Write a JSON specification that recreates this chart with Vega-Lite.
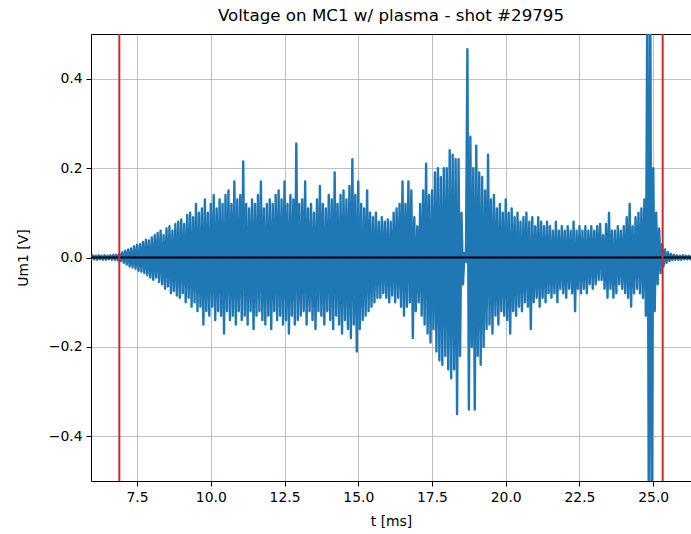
{
  "$schema": "https://vega.github.io/schema/vega-lite/v6.json",
  "width": 600,
  "height": 447,
  "autosize": {"type": "none"},
  "padding": {"left": 91, "top": 34, "right": 0, "bottom": 53},
  "background": "white",
  "title": {
    "text": "Voltage on MC1 w/ plasma - shot #29795",
    "font": "DejaVu Sans",
    "fontSize": 16.7,
    "fontWeight": "normal",
    "color": "black",
    "anchor": "middle",
    "offset": 8
  },
  "config": {
    "view": {"stroke": null},
    "axis": {
      "labelFont": "DejaVu Sans",
      "labelFontSize": 13.9,
      "labelColor": "black",
      "titleFont": "DejaVu Sans",
      "titleFontSize": 13.9,
      "titleFontWeight": "normal",
      "titleColor": "black",
      "domainColor": "black",
      "domainWidth": 1,
      "tickColor": "black",
      "tickWidth": 1,
      "tickSize": 5,
      "labelPadding": 4,
      "gridColor": "#b0b0b0",
      "gridWidth": 0.8
    }
  },
  "resolve": {"axis": {"x": "independent", "y": "independent"}},
  "layer": [
    {
      "data": {
        "values": [
          {"t":5.9,"u":0.004},{"t":5.95,"u":-0.004},{"t":6.0,"u":0.005},{"t":6.05,"u":-0.004},
          {"t":6.1,"u":0.004},{"t":6.15,"u":-0.005},{"t":6.2,"u":0.005},{"t":6.25,"u":-0.004},
          {"t":6.3,"u":0.004},{"t":6.35,"u":-0.005},{"t":6.4,"u":0.005},{"t":6.45,"u":-0.005},
          {"t":6.5,"u":0.004},{"t":6.55,"u":-0.004},{"t":6.6,"u":0.005},{"t":6.65,"u":-0.005},
          {"t":6.7,"u":0.006},{"t":6.75,"u":-0.005},{"t":6.8,"u":0.006},{"t":6.85,"u":-0.006},
          {"t":6.9,"u":0.008},{"t":6.95,"u":-0.008},{"t":7.0,"u":0.012},{"t":7.05,"u":-0.012},
          {"t":7.1,"u":0.015},{"t":7.15,"u":-0.016},{"t":7.2,"u":0.018},{"t":7.25,"u":-0.02},
          {"t":7.3,"u":0.02},{"t":7.35,"u":-0.022},{"t":7.4,"u":0.025},{"t":7.45,"u":-0.025},
          {"t":7.5,"u":0.028},{"t":7.55,"u":-0.03},{"t":7.6,"u":0.03},{"t":7.65,"u":-0.032},
          {"t":7.7,"u":0.035},{"t":7.75,"u":-0.035},{"t":7.8,"u":0.04},{"t":7.85,"u":-0.04},
          {"t":7.9,"u":0.038},{"t":7.95,"u":-0.045},{"t":8.0,"u":0.045},{"t":8.05,"u":-0.05},
          {"t":8.1,"u":0.05},{"t":8.15,"u":-0.045},{"t":8.2,"u":0.055},{"t":8.25,"u":-0.055},
          {"t":8.3,"u":0.06},{"t":8.35,"u":-0.06},{"t":8.4,"u":0.05},{"t":8.45,"u":-0.07},
          {"t":8.5,"u":0.065},{"t":8.55,"u":-0.065},{"t":8.6,"u":0.07},{"t":8.65,"u":-0.08},
          {"t":8.7,"u":0.06},{"t":8.75,"u":-0.075},{"t":8.8,"u":0.075},{"t":8.85,"u":-0.085},
          {"t":8.9,"u":0.08},{"t":8.95,"u":-0.09},{"t":9.0,"u":0.085},{"t":9.05,"u":-0.08},
          {"t":9.1,"u":0.075},{"t":9.15,"u":-0.1},{"t":9.2,"u":0.095},{"t":9.25,"u":-0.09},
          {"t":9.3,"u":0.1},{"t":9.35,"u":-0.11},{"t":9.4,"u":0.09},{"t":9.45,"u":-0.1},
          {"t":9.5,"u":0.12},{"t":9.55,"u":-0.12},{"t":9.6,"u":0.1},{"t":9.65,"u":-0.11},
          {"t":9.7,"u":0.11},{"t":9.75,"u":-0.15},{"t":9.8,"u":0.13},{"t":9.85,"u":-0.12},
          {"t":9.9,"u":0.1},{"t":9.95,"u":-0.13},{"t":10.0,"u":0.12},{"t":10.05,"u":-0.11},
          {"t":10.1,"u":0.14},{"t":10.15,"u":-0.14},{"t":10.2,"u":0.11},{"t":10.25,"u":-0.12},
          {"t":10.3,"u":0.13},{"t":10.35,"u":-0.13},{"t":10.4,"u":0.12},{"t":10.45,"u":-0.17},
          {"t":10.5,"u":0.14},{"t":10.55,"u":-0.12},{"t":10.6,"u":0.15},{"t":10.65,"u":-0.14},
          {"t":10.7,"u":0.12},{"t":10.75,"u":-0.13},{"t":10.8,"u":0.17},{"t":10.85,"u":-0.15},
          {"t":10.9,"u":0.13},{"t":10.95,"u":-0.12},{"t":11.0,"u":0.14},{"t":11.05,"u":-0.14},
          {"t":11.1,"u":0.215},{"t":11.15,"u":-0.13},{"t":11.2,"u":0.12},{"t":11.25,"u":-0.15},
          {"t":11.3,"u":0.11},{"t":11.35,"u":-0.12},{"t":11.4,"u":0.13},{"t":11.45,"u":-0.16},
          {"t":11.5,"u":0.12},{"t":11.55,"u":-0.13},{"t":11.6,"u":0.14},{"t":11.65,"u":-0.12},
          {"t":11.7,"u":0.17},{"t":11.75,"u":-0.14},{"t":11.8,"u":0.11},{"t":11.85,"u":-0.15},
          {"t":11.9,"u":0.12},{"t":11.95,"u":-0.13},{"t":12.0,"u":0.13},{"t":12.05,"u":-0.16},
          {"t":12.1,"u":0.12},{"t":12.15,"u":-0.12},{"t":12.2,"u":0.14},{"t":12.25,"u":-0.14},
          {"t":12.3,"u":0.15},{"t":12.35,"u":-0.13},{"t":12.4,"u":0.13},{"t":12.45,"u":-0.15},
          {"t":12.5,"u":0.17},{"t":12.55,"u":-0.14},{"t":12.6,"u":0.12},{"t":12.65,"u":-0.17},
          {"t":12.7,"u":0.14},{"t":12.75,"u":-0.13},{"t":12.8,"u":0.13},{"t":12.85,"u":-0.15},
          {"t":12.9,"u":0.255},{"t":12.95,"u":-0.14},{"t":13.0,"u":0.12},{"t":13.05,"u":-0.13},
          {"t":13.1,"u":0.13},{"t":13.15,"u":-0.12},{"t":13.2,"u":0.17},{"t":13.25,"u":-0.15},
          {"t":13.3,"u":0.11},{"t":13.35,"u":-0.12},{"t":13.4,"u":0.12},{"t":13.45,"u":-0.14},
          {"t":13.5,"u":0.1},{"t":13.55,"u":-0.16},{"t":13.6,"u":0.13},{"t":13.65,"u":-0.12},
          {"t":13.7,"u":0.16},{"t":13.75,"u":-0.13},{"t":13.8,"u":0.12},{"t":13.85,"u":-0.15},
          {"t":13.9,"u":0.11},{"t":13.95,"u":-0.12},{"t":14.0,"u":0.14},{"t":14.05,"u":-0.14},
          {"t":14.1,"u":0.13},{"t":14.15,"u":-0.16},{"t":14.2,"u":0.19},{"t":14.25,"u":-0.13},
          {"t":14.3,"u":0.12},{"t":14.35,"u":-0.15},{"t":14.4,"u":0.14},{"t":14.45,"u":-0.17},
          {"t":14.5,"u":0.15},{"t":14.55,"u":-0.14},{"t":14.6,"u":0.13},{"t":14.65,"u":-0.16},
          {"t":14.7,"u":0.16},{"t":14.75,"u":-0.18},{"t":14.8,"u":0.22},{"t":14.85,"u":-0.15},
          {"t":14.9,"u":0.14},{"t":14.95,"u":-0.21},{"t":15.0,"u":0.17},{"t":15.05,"u":-0.16},
          {"t":15.1,"u":0.12},{"t":15.15,"u":-0.14},{"t":15.2,"u":0.11},{"t":15.25,"u":-0.13},
          {"t":15.3,"u":0.15},{"t":15.35,"u":-0.12},{"t":15.4,"u":0.1},{"t":15.45,"u":-0.11},
          {"t":15.5,"u":0.09},{"t":15.55,"u":-0.1},{"t":15.6,"u":0.1},{"t":15.65,"u":-0.09},
          {"t":15.7,"u":0.08},{"t":15.75,"u":-0.09},{"t":15.8,"u":0.09},{"t":15.85,"u":-0.08},
          {"t":15.9,"u":0.08},{"t":15.95,"u":-0.09},{"t":16.0,"u":0.085},{"t":16.05,"u":-0.1},
          {"t":16.1,"u":0.08},{"t":16.15,"u":-0.085},{"t":16.2,"u":0.1},{"t":16.25,"u":-0.1},
          {"t":16.3,"u":0.11},{"t":16.35,"u":-0.09},{"t":16.4,"u":0.12},{"t":16.45,"u":-0.11},
          {"t":16.5,"u":0.17},{"t":16.55,"u":-0.13},{"t":16.6,"u":0.12},{"t":16.65,"u":-0.11},
          {"t":16.7,"u":0.17},{"t":16.75,"u":-0.1},{"t":16.8,"u":0.15},{"t":16.85,"u":-0.18},
          {"t":16.9,"u":0.09},{"t":16.95,"u":-0.12},{"t":17.0,"u":0.07},{"t":17.05,"u":-0.1},
          {"t":17.1,"u":0.12},{"t":17.15,"u":-0.13},{"t":17.2,"u":0.15},{"t":17.25,"u":-0.15},
          {"t":17.3,"u":0.21},{"t":17.35,"u":-0.17},{"t":17.4,"u":0.14},{"t":17.45,"u":-0.19},
          {"t":17.5,"u":0.15},{"t":17.55,"u":-0.16},{"t":17.6,"u":0.19},{"t":17.65,"u":-0.21},
          {"t":17.7,"u":0.2},{"t":17.75,"u":-0.23},{"t":17.8,"u":0.18},{"t":17.85,"u":-0.24},
          {"t":17.9,"u":0.2},{"t":17.95,"u":-0.22},{"t":18.0,"u":0.2},{"t":18.05,"u":-0.25},
          {"t":18.1,"u":0.24},{"t":18.15,"u":-0.27},{"t":18.2,"u":0.23},{"t":18.25,"u":-0.25},
          {"t":18.3,"u":0.22},{"t":18.35,"u":-0.35},{"t":18.4,"u":0.22},{"t":18.45,"u":-0.22},
          {"t":18.5,"u":0.1},{"t":18.55,"u":-0.06},{"t":18.6,"u":0.01},{"t":18.65,"u":-0.01},
          {"t":18.7,"u":0.466},{"t":18.75,"u":-0.34},{"t":18.8,"u":0.27},{"t":18.85,"u":-0.2},
          {"t":18.9,"u":0.2},{"t":18.95,"u":-0.34},{"t":19.0,"u":0.25},{"t":19.05,"u":-0.22},
          {"t":19.1,"u":0.19},{"t":19.15,"u":-0.24},{"t":19.2,"u":0.18},{"t":19.25,"u":-0.2},
          {"t":19.3,"u":0.15},{"t":19.35,"u":-0.16},{"t":19.4,"u":0.23},{"t":19.45,"u":-0.15},
          {"t":19.5,"u":0.13},{"t":19.55,"u":-0.17},{"t":19.6,"u":0.14},{"t":19.65,"u":-0.13},
          {"t":19.7,"u":0.11},{"t":19.75,"u":-0.15},{"t":19.8,"u":0.12},{"t":19.85,"u":-0.12},
          {"t":19.9,"u":0.1},{"t":19.95,"u":-0.13},{"t":20.0,"u":0.13},{"t":20.05,"u":-0.14},
          {"t":20.1,"u":0.1},{"t":20.15,"u":-0.17},{"t":20.2,"u":0.11},{"t":20.25,"u":-0.12},
          {"t":20.3,"u":0.09},{"t":20.35,"u":-0.13},{"t":20.4,"u":0.1},{"t":20.45,"u":-0.11},
          {"t":20.5,"u":0.08},{"t":20.55,"u":-0.12},{"t":20.6,"u":0.09},{"t":20.65,"u":-0.1},
          {"t":20.7,"u":0.1},{"t":20.75,"u":-0.11},{"t":20.8,"u":0.08},{"t":20.85,"u":-0.16},
          {"t":20.9,"u":0.09},{"t":20.95,"u":-0.1},{"t":21.0,"u":0.07},{"t":21.05,"u":-0.09},
          {"t":21.1,"u":0.09},{"t":21.15,"u":-0.11},{"t":21.2,"u":0.08},{"t":21.25,"u":-0.09},
          {"t":21.3,"u":0.07},{"t":21.35,"u":-0.1},{"t":21.4,"u":0.08},{"t":21.45,"u":-0.08},
          {"t":21.5,"u":0.07},{"t":21.55,"u":-0.09},{"t":21.6,"u":0.06},{"t":21.65,"u":-0.08},
          {"t":21.7,"u":0.08},{"t":21.75,"u":-0.1},{"t":21.8,"u":0.06},{"t":21.85,"u":-0.07},
          {"t":21.9,"u":0.07},{"t":21.95,"u":-0.08},{"t":22.0,"u":0.06},{"t":22.05,"u":-0.09},
          {"t":22.1,"u":0.07},{"t":22.15,"u":-0.07},{"t":22.2,"u":0.06},{"t":22.25,"u":-0.08},
          {"t":22.3,"u":0.08},{"t":22.35,"u":-0.12},{"t":22.4,"u":0.06},{"t":22.45,"u":-0.07},
          {"t":22.5,"u":0.07},{"t":22.55,"u":-0.08},{"t":22.6,"u":0.06},{"t":22.65,"u":-0.07},
          {"t":22.7,"u":0.07},{"t":22.75,"u":-0.08},{"t":22.8,"u":0.06},{"t":22.85,"u":-0.06},
          {"t":22.9,"u":0.07},{"t":22.95,"u":-0.07},{"t":23.0,"u":0.06},{"t":23.05,"u":-0.06},
          {"t":23.1,"u":0.07},{"t":23.15,"u":-0.05},{"t":23.2,"u":0.075},{"t":23.25,"u":-0.05},
          {"t":23.3,"u":0.05},{"t":23.35,"u":-0.07},{"t":23.4,"u":0.075},{"t":23.45,"u":-0.09},
          {"t":23.5,"u":0.1},{"t":23.55,"u":-0.07},{"t":23.6,"u":0.06},{"t":23.65,"u":-0.09},
          {"t":23.7,"u":0.06},{"t":23.75,"u":-0.08},{"t":23.8,"u":0.07},{"t":23.85,"u":-0.06},
          {"t":23.9,"u":0.06},{"t":23.95,"u":-0.07},{"t":24.0,"u":0.07},{"t":24.05,"u":-0.08},
          {"t":24.1,"u":0.09},{"t":24.15,"u":-0.09},{"t":24.2,"u":0.12},{"t":24.25,"u":-0.11},
          {"t":24.3,"u":0.07},{"t":24.35,"u":-0.08},{"t":24.4,"u":0.09},{"t":24.45,"u":-0.07},
          {"t":24.5,"u":0.1},{"t":24.55,"u":-0.08},{"t":24.6,"u":0.11},{"t":24.65,"u":-0.09},
          {"t":24.7,"u":0.13},{"t":24.75,"u":-0.13},{"t":24.8,"u":0.6},{"t":24.85,"u":-0.6},
          {"t":24.9,"u":0.6},{"t":24.95,"u":-0.6},{"t":25.0,"u":0.2},{"t":25.05,"u":-0.12},
          {"t":25.1,"u":0.1},{"t":25.15,"u":-0.06},{"t":25.2,"u":0.065},{"t":25.25,"u":-0.035},
          {"t":25.3,"u":0.03},{"t":25.35,"u":-0.02},{"t":25.4,"u":0.018},{"t":25.45,"u":-0.012},
          {"t":25.5,"u":0.012},{"t":25.55,"u":-0.008},{"t":25.6,"u":0.008},{"t":25.65,"u":-0.006},
          {"t":25.7,"u":0.006},{"t":25.75,"u":-0.005},{"t":25.8,"u":0.005},{"t":25.85,"u":-0.005},
          {"t":25.9,"u":0.004},{"t":25.95,"u":-0.005},{"t":26.0,"u":0.005},{"t":26.05,"u":-0.004},
          {"t":26.1,"u":0.004},{"t":26.15,"u":-0.004},{"t":26.2,"u":0.004},{"t":26.25,"u":-0.004},
          {"t":26.3,"u":0.004}
        ]
      },
      "mark": {"type": "line", "color": "#1f77b4", "strokeWidth": 2.4, "strokeJoin": "round", "clip": true},
      "encoding": {
        "x": {
          "field": "t",
          "type": "quantitative",
          "scale": {"domain": [5.94, 26.28], "nice": false, "zero": false},
          "axis": {
            "values": [7.5, 10, 12.5, 15, 17.5, 20, 22.5, 25],
            "format": ".1f",
            "title": "t [ms]",
            "grid": true,
            "titlePadding": 11
          }
        },
        "y": {
          "field": "u",
          "type": "quantitative",
          "scale": {"domain": [-0.5, 0.5], "nice": false},
          "axis": {
            "values": [-0.4, -0.2, 0, 0.2, 0.4],
            "format": ".1f",
            "title": "Um1 [V]",
            "grid": true,
            "titlePadding": 18
          }
        }
      }
    },
    {
      "data": {"values": [{"u": 0}]},
      "mark": {"type": "rule", "color": "black", "strokeWidth": 2.2},
      "encoding": {
        "y": {"field": "u", "type": "quantitative", "axis": null}
      }
    },
    {
      "data": {"values": [{"t": 6.9}, {"t": 25.32}]},
      "mark": {"type": "rule", "color": "#d62728", "strokeWidth": 2},
      "encoding": {
        "x": {
          "field": "t",
          "type": "quantitative",
          "axis": {"orient": "top", "labels": false, "ticks": false, "grid": false, "title": null}
        }
      }
    }
  ]
}
